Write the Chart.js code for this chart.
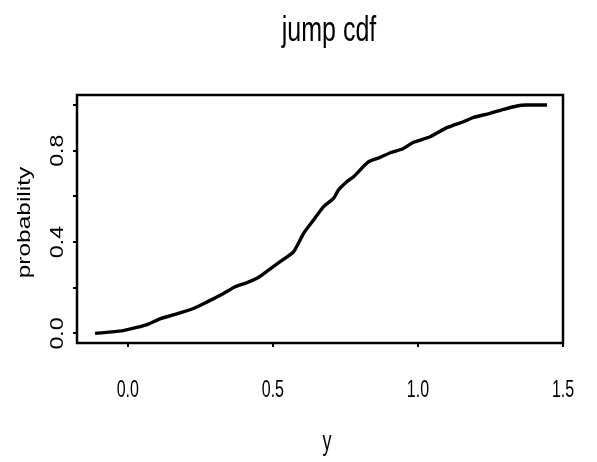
<!DOCTYPE html>
<html>
<head>
<meta charset="utf-8">
<script src="https://cdn.jsdelivr.net/npm/chart.js@4.4.1/dist/chart.umd.min.js"></script>
<style>
  html, body { margin: 0; padding: 0; background: #fff; }
  canvas { display: block; }
</style>
</head>
<body>
<canvas id="cdfChart" width="597" height="462"></canvas>
<script>
// data
const yValues = [-0.113, -0.021, 0.031, 0.071, 0.111, 0.163, 0.226, 0.272, 0.330, 0.370, 0.410, 0.450,
    0.485, 0.525, 0.571, 0.606, 0.640, 0.675, 0.709, 0.726, 0.755, 0.778, 0.830, 0.870, 0.905, 0.950,
    0.985, 1.042, 1.100, 1.157, 1.192, 1.249, 1.295, 1.341, 1.376, 1.445];
const probability = [0.0, 0.011, 0.026, 0.041, 0.064, 0.083, 0.109, 0.137, 0.175, 0.204, 0.222, 0.245,
    0.277, 0.314, 0.357, 0.438, 0.496, 0.555, 0.591, 0.628, 0.664, 0.686, 0.752, 0.771, 0.791, 0.810,
    0.837, 0.861, 0.901, 0.927, 0.946, 0.964, 0.981, 0.996, 1.0, 1.0];
const xTicks = [0, 0.5, 1.0, 1.5];
const xTickLabels = ['0.0', '0.5', '1.0', '1.5'];
const yTicks = [0, 0.2, 0.4, 0.6, 0.8, 1.0];
const yTickLabels = ['0.0', '0.4', '0.8'];
const yLabelValues = [0, 0.4, 0.8];

const FONT = '"Liberation Sans", Arial, sans-serif';

// the picture is stretched vertically, so text is drawn scaled
function stretchedText(ctx, text, x, y, size, sy, align, rotate) {
    ctx.save();
    ctx.translate(x, y);
    if (rotate) {
        ctx.rotate(-Math.PI / 2);
        ctx.scale(sy, 1);
    } else {
        ctx.scale(1, sy);
    }
    ctx.font = size + 'px ' + FONT;
    ctx.fillStyle = '#000';
    ctx.textAlign = align;
    ctx.textBaseline = 'alphabetic';
    ctx.fillText(text, 0, 0);
    ctx.restore();
}

const frame = {
    id: 'frame',
    afterDraw(chart) {
        const ctx = chart.ctx;
        const area = chart.chartArea;
        const xs = chart.scales.x;
        const ys = chart.scales.y;

        ctx.save();
        ctx.strokeStyle = '#000';
        ctx.lineWidth = 2.5;
        ctx.strokeRect(area.left, area.top, area.right - area.left, area.bottom - area.top);
        ctx.restore();

        stretchedText(ctx, 'jump cdf', 329, 40.5, 25, 1.4, 'center', false);

        xTicks.forEach((v, i) => {
            stretchedText(ctx, xTickLabels[i], xs.getPixelForValue(v), 396.5, 16, 1.55, 'center', false);
        });
        stretchedText(ctx, 'y', 327, 450, 18, 1.55, 'center', false);

        yLabelValues.forEach((v, i) => {
            stretchedText(ctx, yTickLabels[i], 63, ys.getPixelForValue(v), 19, 1.22, 'center', true);
        });
        stretchedText(ctx, 'probability', 29.5, 222.5, 18, 1.36, 'center', true);
    }
};

const ctx = document.getElementById('cdfChart').getContext('2d');
const chart = new Chart(ctx, {
    type: 'line',
    data: {
        datasets: [{
            data: yValues.map((v, i) => ({ x: v, y: probability[i] })),
            borderColor: '#000',
            borderWidth: 3.4,
            pointRadius: 0,
            fill: false,
            tension: 0.2
        }]
    },
    options: {
        responsive: false,
        animation: false,
        events: [],
        layout: { padding: { top: 95, right: 34, left: 0, bottom: 0 } },
        plugins: { legend: { display: false }, title: { display: false }, tooltip: { enabled: false } },
        scales: {
            x: {
                type: 'linear',
                min: -0.175,
                max: 1.5,
                afterBuildTicks: s => { s.ticks = xTicks.map(v => ({ value: v })); },
                afterFit: s => { s.height = 119; },
                ticks: { display: false },
                border: { display: false },
                grid: { drawOnChartArea: false, drawTicks: true, tickLength: 4, lineWidth: 2, color: '#000' }
            },
            y: {
                type: 'linear',
                min: -0.042,
                max: 1.044,
                afterBuildTicks: s => { s.ticks = yTicks.map(v => ({ value: v })); },
                afterFit: s => { s.width = 77; },
                ticks: { display: false },
                border: { display: false },
                grid: { drawOnChartArea: false, drawTicks: true, tickLength: 4, lineWidth: 2, color: '#000' }
            }
        }
    },
    plugins: [frame]
});
</script>
</body>
</html>
